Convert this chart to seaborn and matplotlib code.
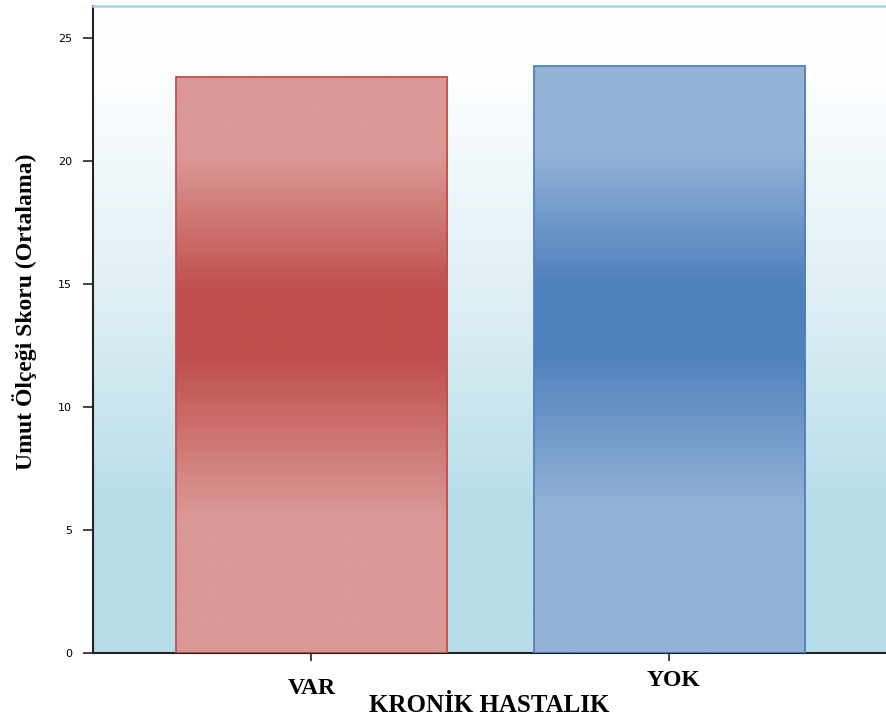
import numpy as np
import pandas as pd
import matplotlib
matplotlib.use("Agg")
import matplotlib.pyplot as plt
import matplotlib.transforms as mtransforms
import seaborn as sns
from matplotlib.colors import to_rgb

# Group means of the hope scale by chronic illness
groups = ["VAR", "YOK"]
means = [23.40, 23.87]
base_colors = ["#C0504D", "#4F81BD"]
light_colors = ["#DA9896", "#95B3D7"]

sns.set_theme(style="white")
plt.rcParams["font.family"] = ["Liberation Serif", "DejaVu Serif"]
plt.rcParams["text.color"] = "black"
plt.rcParams["axes.labelcolor"] = "black"
plt.rcParams["xtick.color"] = "black"
plt.rcParams["ytick.color"] = "black"

df = pd.DataFrame({"grup": groups, "ort": means})

fig = plt.figure(figsize=(8.86, 7.2), dpi=100)
ax = fig.add_axes([93 / 886, 1 - 653.3 / 720, 1 - 93 / 886, (653.3 - 6) / 720])

sns.barplot(data=df, x="grup", y="ort", hue="grup", palette=base_colors,
            width=0.757, legend=False, ax=ax, saturation=1)

XL = (-0.61, 1.605)
YL = (0, 26.29)

# plot-area background: white at top fading to pale blue towards the bottom
n = 400
t = np.linspace(0, 1, n)
w = np.interp(t, [0.0, 0.1, 0.45, 0.78, 1.0], [0.0, 0.0, 0.45, 1.0, 1.0])
top = np.array([254, 254, 255]) / 255
bot = np.array([183, 221, 232]) / 255
bg = (1 - w)[:, None] * top + w[:, None] * bot
bg = np.repeat(bg[:, None, :], 2, axis=1)
ax.imshow(bg, extent=[XL[0], XL[1], YL[0], YL[1]], origin="upper",
          aspect="auto", zorder=0, interpolation="bilinear")

# vertical light-dark-light gradient inside each bar
for patch, dark, light in zip(ax.patches, base_colors, light_colors):
    x0, y0 = patch.get_x(), patch.get_y()
    w_, h_ = patch.get_width(), patch.get_height()
    s = np.linspace(0, 1, 400)
    k = np.interp(s, [0.0, 0.24, 0.51, 0.63, 0.86, 1.0],
                  [0.0, 0.0, 1.0, 1.0, 0.0, 0.0])
    d = np.array(to_rgb(dark))
    l = np.array(to_rgb(light))
    img = (1 - k)[:, None] * l + k[:, None] * d
    img = np.repeat(img[:, None, :], 2, axis=1)
    im = ax.imshow(img, extent=[x0, x0 + w_, y0, y0 + h_], origin="lower",
                   aspect="auto", zorder=2, interpolation="bilinear")
    im.set_clip_path(patch)
    patch.set_facecolor("none")
    patch.set_edgecolor(dark)
    patch.set_linewidth(1.3)
    patch.set_zorder(3)

ax.set_xlim(*XL)
ax.set_ylim(*YL)

ax.set_yticks([0, 5, 10, 15, 20, 25])
ax.tick_params(axis="y", direction="out", length=7, width=1.2, color="#222222",
               labelsize=8, pad=8, left=True)
ax.tick_params(axis="x", direction="out", length=6, width=1.2, color="#222222",
               labelsize=17, pad=12, bottom=True)
for lab in ax.get_yticklabels():
    lab.set_fontfamily("DejaVu Sans")
xlabs = ax.get_xticklabels()
for lab in xlabs:
    lab.set_fontweight("bold")
# the second category label sits a little higher
xlabs[1].set_transform(xlabs[1].get_transform() +
                       mtransforms.ScaledTranslation(0.04, 0.08, fig.dpi_scale_trans))

ax.set_xlabel("KRONİK HASTALIK", fontsize=18, fontweight="bold", labelpad=-4)
ax.set_ylabel("Umut Ölçeği Skoru (Ortalama)", fontsize=17, fontweight="bold")
ax.yaxis.set_label_coords(-0.071, 0.528)

for side in ["left", "bottom"]:
    ax.spines[side].set_color("#222222")
    ax.spines[side].set_linewidth(1.5)
ax.spines["right"].set_visible(False)
ax.spines["top"].set_color("#A6D6E6")
ax.spines["top"].set_linewidth(1.8)
ax.grid(False)

fig.savefig("out.png", dpi=100, facecolor="white")
